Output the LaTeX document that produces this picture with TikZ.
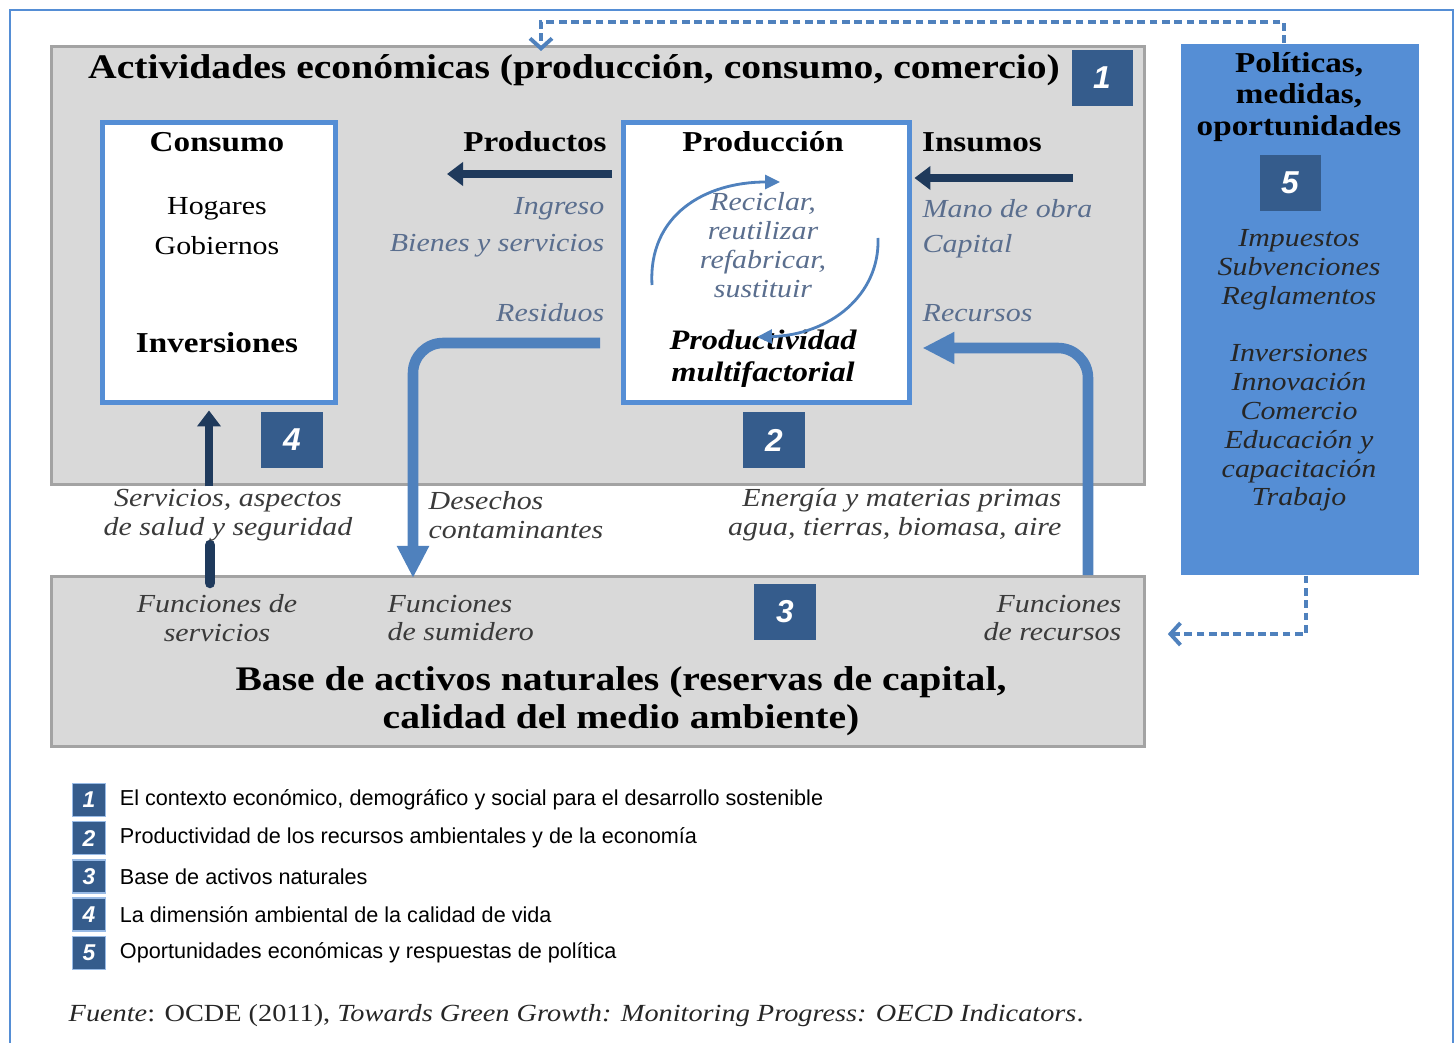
\documentclass[tikz,border=0pt]{standalone}
\usepackage{fontspec}
\setmainfont{Liberation Serif}[FakeStretch=1.15]
\setsansfont{Liberation Sans}
\usetikzlibrary{positioning,arrows.meta,calc}

\definecolor{feldgrau}{HTML}{D9D9D9}
\definecolor{feldrand}{HTML}{A3A3A3}
\definecolor{rahmenblau}{HTML}{558ED5}
\definecolor{pfeilblau}{HTML}{4F81BD}
\definecolor{marine}{HTML}{355C8C}
\definecolor{nachtblau}{HTML}{1F3A5C}
\definecolor{labgrau}{HTML}{5A6E8E}
\definecolor{textgrau}{HTML}{3A3A3A}

\begin{document}
\begin{tikzpicture}[x=0.01cm,y=-0.01cm,
    feld/.style={draw=feldrand, line width=0.9pt, fill=feldgrau, inner sep=0, anchor=north west},
    kasten/.style={draw=rahmenblau, line width=1.5pt, fill=white, inner sep=0, anchor=north west},
    politik/.style={fill=rahmenblau, inner sep=0, anchor=north west},
    nummer/.style={fill=marine, text=white, inner sep=0, minimum width=0.61cm, minimum height=0.55cm,
      font=\sffamily\bfseries\itshape\fontsize{9}{9}\selectfont},
    mini/.style={fill=marine, draw=rahmenblau!60, line width=0.4pt, text=white, inner sep=0,
      minimum width=0.33cm, minimum height=0.33cm, font=\sffamily\bfseries\itshape\fontsize{6.5}{6.5}\selectfont},
    titel/.style={font=\bfseries\fontsize{9.8}{10.8}\selectfont, inner sep=0},
    kopf/.style={font=\bfseries\fontsize{8.2}{9}\selectfont, inner sep=0},
    schlicht/.style={font=\fontsize{7.4}{8.2}\selectfont, inner sep=0},
    lab/.style={font=\itshape\fontsize{7.4}{8.2}\selectfont, text=labgrau, inner sep=0},
    unten/.style={font=\itshape\fontsize{7.4}{8.2}\selectfont, text=textgrau, inner sep=0},
    legtext/.style={font=\sffamily\fontsize{6.15}{7}\selectfont, inner sep=0, anchor=west},
    dunkel/.style={draw=nachtblau, line width=2.4pt, -{Triangle[length=0.16cm, width=0.23cm]}},
    blau/.style={draw=pfeilblau, line width=3pt, rounded corners=0.3cm, -{Triangle[length=0.32cm, width=0.3cm]}},
    kreis/.style={draw=pfeilblau, line width=0.8pt, -{Triangle[length=0.15cm, width=0.14cm]}},
    strich/.style={draw=pfeilblau, line width=1.1pt, dash pattern=on 2.2pt off 1.3pt,
      -{Straight Barb[length=0.1cm, width=0.22cm]}}]

  \useasboundingbox (0,0) rectangle (1455,1043);
  % Rahmen
  \draw[rahmenblau, line width=0.8pt] (10,1043) -- (10,10) -- (1453,10) -- (1453,1043);

  % Felder
  \node[feld, minimum width=10.92cm, minimum height=4.38cm] (akt) at (50,45) {};
  \node[feld, minimum width=10.92cm, minimum height=1.70cm] (basis) at (50,575) {};
  \node[politik, minimum width=2.38cm, minimum height=5.31cm] (pol) at (1180,43) {};
  \node[kasten, minimum width=2.33cm, minimum height=2.80cm] (kons) at (100,120) {};
  \node[kasten, minimum width=2.86cm, minimum height=2.80cm] (prod) at (621,120) {};

  \node[titel] (tit) at (574,70) {Actividades económicas (producción, consumo, comercio)};
  \node[nummer] (n1) at (1102,78) {1};

  % Consumo
  \node[kopf] (kons1) at (217,142) {Consumo};
  \node[schlicht] (hog) at (217,209) {Hogares};
  \node[schlicht] (gob) at (217,246) {Gobiernos};
  \node[kopf] (inv) at (217,343) {Inversiones};

  % Produccion
  \node[kopf] (prod1) at (763,142) {Producción};
  \node[lab, align=center] (rec) at (763,245) {Reciclar,\\reutilizar\\refabricar,\\sustituir};
  \node[kopf, font=\bfseries\itshape\fontsize{8}{9.1}\selectfont, align=center] (pmf) at (763,359)
    {Productividad\\multifactorial};
  \draw[kreis] (652,285) .. controls (648,215) and (705,182) .. (780,182);
  \draw[kreis] (878,238) .. controls (880,295) and (830,335) .. (757,337);

  % Flusse
  \node[kopf] (produkte) at (535,142) {Productos};
  \node[kopf] (insumos) at (982,142) {Insumos};
  \coordinate (pende) at (447,174);
  \draw[dunkel] ($(prod.west |- pende)+(-9,0)$) -- (pende);
  \coordinate (ianf) at (1073,178);
  \draw[dunkel] (ianf) -- ($(prod.east |- ianf)+(2,0)$);

  \node[lab, anchor=east] (ing) at (605,209) {Ingreso};
  \node[lab, anchor=east] (bien) at (605,246) {Bienes y servicios};
  \node[lab, anchor=east] (res) at (605,313) {Residuos};
  \node[lab, anchor=west] (mano) at (922,209) {Mano de obra};
  \node[lab, anchor=west] (cap) at (922,246) {Capital};
  \node[lab, anchor=west] (recu) at (922,313) {Recursos};

  \coordinate (rabg) at (600,343);
  \draw[blau] (rabg) -- (413,343) -- ($(413,0 |- basis.north)+(0,3)$);
  \draw[blau] (1088,0 |- basis.north) -- (1088,348) -- ($(prod.east |- 0,348)+(10,0)$);

  \draw[dunkel] (209,0 |- akt.south) -- ($(kons.south -| 209,0)+(0,5)$);
  \draw[nachtblau, line width=3pt, line cap=round] (210,545) -- ($(210,0 |- basis.north)+(0,8)$);

  \node[nummer] (n4) at (292,440) {4};
  \node[nummer] (n2) at (774,440) {2};

  % zwischen den Feldern
  \node[unten, align=center] (serv) at (228,515) {Servicios, aspectos\\de salud y seguridad};
  \node[unten, align=left, anchor=west] (des) at (428,515) {Desechos\\contaminantes};
  \node[unten, align=right, anchor=east] (ener) at (1062,515) {Energía y materias primas\\agua, tierras, biomasa, aire};

  % Basis
  \node[unten, align=center] (fserv) at (217,618) {Funciones de\\servicios};
  \node[unten, align=left, anchor=west] (fsum) at (387,618) {Funciones\\de sumidero};
  \node[unten, align=right, anchor=east] (frec) at (1122,618) {Funciones\\de recursos};
  \node[nummer] (n3) at (785,612) {3};
  \node[titel, align=center] (btit) at (621,701) {Base de activos naturales (reservas de capital,\\calidad del medio ambiente)};

  % Politicas
  \node[kopf, align=center] (ptit) at (1299,97) {Políticas,\\medidas,\\oportunidades};
  \node[nummer] (n5) at (1290,183) {5};
  \node[unten, text=black!85, align=center] (pl1) at (1299,270) {Impuestos\\Subvenciones\\Reglamentos};
  \node[unten, text=black!85, align=center] (pl2) at (1299,428)
    {Inversiones\\Innovación\\Comercio\\Educación y\\capacitación\\Trabajo};

  \coordinate (d1) at (1284,22);
  \coordinate (d2) at (541,22);
  \draw[strich] (pol.north -| d1) -- (d1) -- (d2) -- ($(d2 |- akt.north)+(0,6)$);
  \coordinate (d3) at (1306,634);
  \draw[strich] (pol.south -| d3) -- (d3) -- ($(basis.east |- d3)+(22,0)$);

  % Legende
  \foreach \n/\txt [count=\k from 0] in {
      1/{El contexto económico, demográfico y social para el desarrollo sostenible},
      2/{Productividad de los recursos ambientales y de la economía},
      3/{Base de activos naturales},
      4/{La dimensión ambiental de la calidad de vida},
      5/{Oportunidades económicas y respuestas de política}} {
    \node[mini] (l\n) at (89,800+38.2*\k) {\n};
    \node[legtext, right=0.13cm of l\n] (lt\n) {\txt};
  }

  \node[anchor=west, inner sep=0, text=black!85, font=\fontsize{7}{8}\selectfont] (quelle) at (68,1016)
    {\textit{Fuente}: OCDE (2011), \textit{Towards Green Growth: Monitoring Progress: OECD Indicators}.};
\end{tikzpicture}
\end{document}
